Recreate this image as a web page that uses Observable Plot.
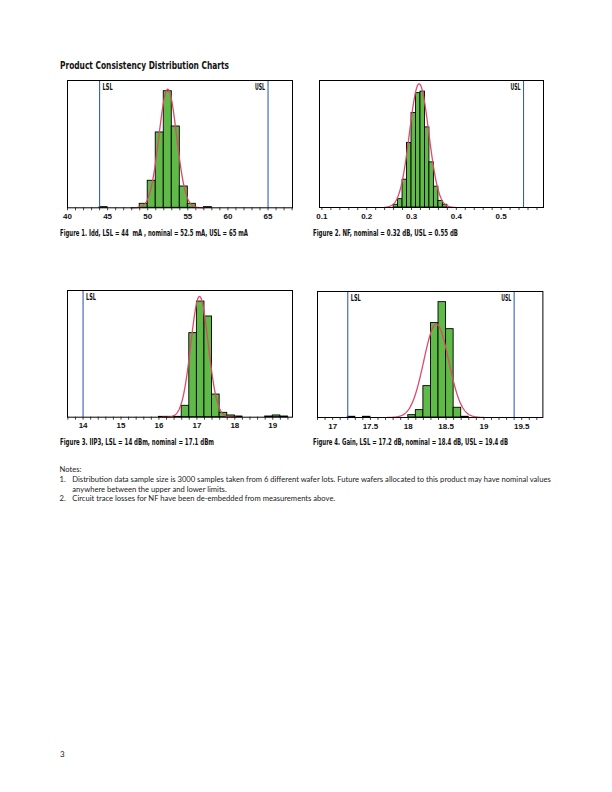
<!DOCTYPE html>
<html>
<head>
<meta charset="utf-8">
<script src="https://cdn.jsdelivr.net/npm/d3@7"></script>
<script src="https://cdn.jsdelivr.net/npm/@observablehq/plot@0.6"></script>
<style>
  html, body { margin: 0; padding: 0; background: #fff; }
  body { width: 612px; height: 792px; position: relative; overflow: hidden; }
  .t { position: absolute; white-space: pre; line-height: 1; transform-origin: 0 50%; color: #111; }
  .cond { font-family: "Liberation Sans Narrow", "Arial Narrow", "DejaVu Sans Condensed", sans-serif; font-stretch: condensed; font-weight: bold; }
  .note { font-family: Lato, "Liberation Sans", sans-serif; font-size: 7.5px; color: #222; }
  svg { position: absolute; overflow: visible; }
</style>
</head>
<body>
<div class="t cond" id="title" style="left:60px;top:59.6px;font-size:11px" data-w="169">Product Consistency Distribution Charts</div>
<div class="t cond" style="left:60px;top:229.7px;font-size:8px" data-w="188">Figure 1. Idd, LSL = 44  mA , nominal = 52.5 mA, USL = 65 mA</div>
<div class="t cond" style="left:313px;top:229.7px;font-size:8px" data-w="145">Figure 2. NF, nominal = 0.32 dB, USL = 0.55 dB</div>
<div class="t cond" style="left:60px;top:439.2px;font-size:8px" data-w="154">Figure 3. IIP3, LSL = 14 dBm, nominal = 17.1 dBm</div>
<div class="t cond" style="left:313px;top:439.2px;font-size:8px" data-w="195">Figure 4. Gain, LSL = 17.2 dB, nominal = 18.4 dB, USL = 19.4 dB</div>

<div class="t note" style="left:59.5px;top:466.3px">Notes:</div>
<div class="t note" style="left:59.5px;top:476px">1.</div>
<div class="t note" id="note1" style="left:72.3px;top:476px">Distribution data sample size is 3000 samples taken from 6 different wafer lots. Future wafers allocated to this product may have nominal values</div>
<div class="t note" style="left:72.3px;top:485.6px">anywhere between the upper and lower limits.</div>
<div class="t note" style="left:59.5px;top:495.2px">2.</div>
<div class="t note" style="left:72.3px;top:495.2px">Circuit trace losses for NF have been de-embedded from measurements above.</div>
<div class="t note" style="left:60px;top:750px;font-size:8px">3</div>

<script>
// ---------- DATA ----------
// Figure 1: Idd (mA), bins of width 1
const iddBinStart = [44, 49, 50, 51, 52, 53, 54, 55, 57];
const iddCounts   = [6, 36, 245, 683, 1057, 737, 193, 36, 6];
const iddBinWidth = 1;
const iddSpecValues = [44, 65];
const iddSpecLabels = ["LSL", "USL"];
const iddFit = {mean: 52.5, sd: 1.1, peak: 1075, from: 47.9, to: 57.0};
const iddTickLabels = [40, 45, 50, 55, 60, 65];

// Figure 2: NF (dB), bins of width 0.01
const nfBinStart = [0.26, 0.27, 0.28, 0.29, 0.30, 0.31, 0.32, 0.33, 0.34, 0.35, 0.36, 0.37];
const nfCounts   = [14, 43, 143, 332, 486, 588, 596, 412, 232, 107, 34, 14];
const nfBinWidth = 0.01;
const nfSpecValues = [0.55];
const nfSpecLabels = ["USL"];
const nfFit = {mean: 0.317, sd: 0.0215, peak: 636, from: 0.24, to: 0.40};
const nfTickLabels = [0.1, 0.2, 0.3, 0.4, 0.5];

// Figure 3: IIP3 (dBm), bins of width 0.2
const iip3BinStart = [16.0, 16.2, 16.4, 16.6, 16.8, 17.0, 17.2, 17.4, 17.6, 17.8, 18.0, 18.8, 19.0, 19.2];
const iip3Counts   = [3, 3, 3, 99, 731, 1006, 876, 197, 38, 15, 6, 6, 15, 6];
const iip3BinWidth = 0.2;
const iip3SpecValues = [14];
const iip3SpecLabels = ["LSL"];
const iip3Fit = {mean: 17.07, sd: 0.23, peak: 1050, from: 16.1, to: 18.03};
const iip3TickLabels = [14, 15, 16, 17, 18, 19];

// Figure 4: Gain (dB), bins of width 0.1
const gainBinStart = [17.2, 17.4, 18.0, 18.1, 18.2, 18.3, 18.4, 18.5, 18.6, 18.7];
const gainCounts   = [6, 6, 20, 63, 268, 807, 986, 755, 83, 6];
const gainBinWidth = 0.1;
const gainSpecValues = [17.2, 19.4];
const gainSpecLabels = ["LSL", "USL"];
const gainFit = {mean: 18.37, sd: 0.165, peak: 798, from: 17.72, to: 19.0};
const gainTickLabels = [17, 17.5, 18, 18.5, 19, 19.5];

// ---------- RENDERING ----------
const GREEN = "#60ba48", BLUE = "#3560b8", RED = "#dc4b68";
const NARROW = '"Liberation Sans Narrow", "Arial Narrow", "DejaVu Sans Condensed", sans-serif';

function drawPanel(p) {
  const mL = 14, mR = 12, mT = 2, mB = 22;
  const W = p.frame[2] - p.frame[0], H = p.frame[3] - p.frame[1];
  const rows = p.binStart.map((x, i) => ({x1: x, x2: x + p.binWidth, n: p.counts[i]}));
  const f = p.fit;
  const step = (f.to - f.from) / 240;
  const curve = d3.range(0, 241).map(i => {
    const x = f.from + i * step;
    return {x, y: f.peak * Math.exp(-0.5 * ((x - f.mean) / f.sd) ** 2)};
  });
  const isMajor = d => p.major.some(m => Math.abs(m - d) < 1e-9);
  const specs = p.specValues.map((v, i) => ({v, label: p.specLabels[i]}));
  const chart = Plot.plot({
    width: W + mL + mR, height: H + mT + mB,
    marginLeft: mL, marginRight: mR, marginTop: mT, marginBottom: mB,
    x: {domain: p.xDomain},
    y: {domain: [0, p.yMax], axis: null},
    style: {fontFamily: '"Liberation Sans", Arial, sans-serif', fontSize: "8px", fontWeight: "bold", color: "#111", background: "transparent", overflow: "visible"},
    marks: [
      Plot.rectY(rows, {x1: "x1", x2: "x2", y1: 0, y2: "n", fill: GREEN, stroke: "#000", strokeWidth: 0.9}),
      Plot.ruleX(specs, {x: "v", stroke: BLUE, strokeWidth: 1.1}),
      Plot.line(curve, {x: "x", y: "y", stroke: RED, strokeWidth: 1.3}),
      Plot.frame({stroke: "#000", strokeWidth: 1}),
      Plot.axisX(p.minor, {tickSize: 3, tickPadding: 2.6, strokeWidth: 0.8,
        tickFormat: d => isMajor(d) ? String(+d.toFixed(4)) : ""}),
      Plot.text(specs.filter(d => d.label === "LSL"), {x: "v", y: () => p.yMax, text: "label", dx: 3, dy: 6.3,
        textAnchor: "start", lineAnchor: "middle", fontFamily: NARROW, fontSize: 8.5, fontWeight: "bold"}),
      Plot.text(specs.filter(d => d.label === "USL"), {x: "v", y: () => p.yMax, text: "label", dx: -3, dy: 6.3,
        textAnchor: "end", lineAnchor: "middle", fontFamily: NARROW, fontSize: 8.5, fontWeight: "bold"})
    ]
  });
  // condense the LSL / USL labels to the reference's narrow width
  chart.querySelectorAll("text").forEach(t => {
    if (t.textContent === "LSL" || t.textContent === "USL") {
      t.setAttribute("textLength", "10");
      t.setAttribute("lengthAdjust", "spacingAndGlyphs");
    }
  });
  chart.style.left = (p.frame[0] - mL) + "px";
  chart.style.top = (p.frame[1] - mT) + "px";
  document.body.appendChild(chart);
}

drawPanel({frame: [67, 80, 292, 207.3], xDomain: [40, 68.05], yMax: 1154,
  binStart: iddBinStart, counts: iddCounts, binWidth: iddBinWidth,
  specValues: iddSpecValues, specLabels: iddSpecLabels, fit: iddFit,
  minor: d3.range(40, 69), major: iddTickLabels});
drawPanel({frame: [319.3, 80, 543.3, 207], xDomain: [0.0946, 0.5946], yMax: 653,
  binStart: nfBinStart, counts: nfCounts, binWidth: nfBinWidth,
  specValues: nfSpecValues, specLabels: nfSpecLabels, fit: nfFit,
  minor: d3.range(10, 60, 2).map(d => d / 100), major: nfTickLabels});
drawPanel({frame: [66.7, 290, 291.7, 416.7], xDomain: [13.59, 19.52], yMax: 1102,
  binStart: iip3BinStart, counts: iip3Counts, binWidth: iip3BinWidth,
  specValues: iip3SpecValues, specLabels: iip3SpecLabels, fit: iip3Fit,
  minor: d3.range(68, 98).map(d => d / 5), major: iip3TickLabels});
drawPanel({frame: [317.3, 290.7, 542.7, 416.7], xDomain: [16.8, 19.78], yMax: 1077,
  binStart: gainBinStart, counts: gainCounts, binWidth: gainBinWidth,
  specValues: gainSpecValues, specLabels: gainSpecLabels, fit: gainFit,
  minor: d3.range(168, 198).map(d => d / 10), major: gainTickLabels});

function fitText() {
  document.querySelectorAll("[data-w]").forEach(el => {
    el.style.transform = "none";
    const w = el.getBoundingClientRect().width;
    const target = +el.dataset.w;
    if (w > 0) el.style.transform = `scaleX(${target / w})`;
  });
  // notes: choose one font size so that the long first line spans its reference width
  const n1 = document.getElementById("note1");
  const notes = document.querySelectorAll(".note");
  notes.forEach(el => { if (el.textContent !== "3") el.style.fontSize = "7.5px"; });
  const w1 = n1.getBoundingClientRect().width;
  if (w1 > 0) {
    const fs = 7.5 * 479.5 / w1;
    notes.forEach(el => { if (el.textContent !== "3") el.style.fontSize = fs + "px"; });
  }
}
fitText();
if (document.fonts && document.fonts.ready) document.fonts.ready.then(fitText);
</script>
</body>
</html>
